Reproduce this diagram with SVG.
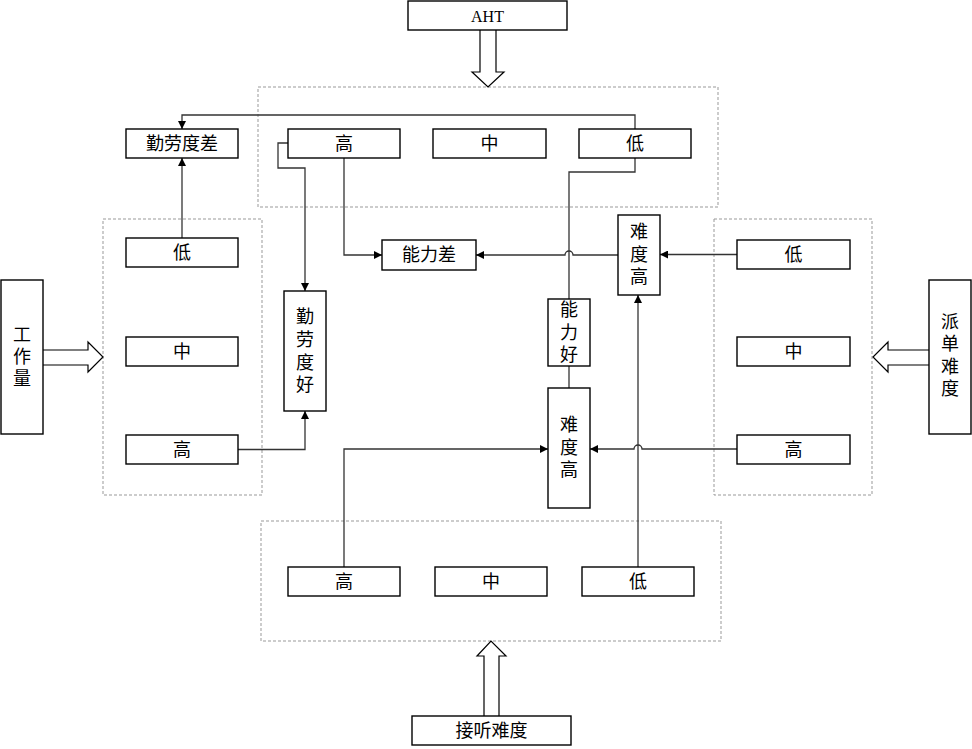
<svg xmlns="http://www.w3.org/2000/svg" width="972" height="749" viewBox="0 0 972 749">
<defs>
<marker id="ah" markerUnits="userSpaceOnUse" markerWidth="8" markerHeight="8" refX="8" refY="4" orient="auto">
<path d="M0,0 L8,4 L0,8 z" fill="#000"/>
</marker>
<style>
.box{fill:#fff;stroke:#000;stroke-width:1.4}
.grp{fill:none;stroke:#999;stroke-width:1;stroke-dasharray:3,2}
.ln{fill:none;stroke:#333;stroke-width:1.3}
.arr{fill:#fff;stroke:#000;stroke-width:1.2}
.t{font-family:"Liberation Serif","Noto Sans CJK SC",serif;font-size:18px;fill:#000;text-anchor:middle;dominant-baseline:central}
.a{font-size:16px}
</style>
</defs>
<rect width="972" height="749" fill="#fff"/>

<!-- containers -->
<g id="containers">
<rect class="grp" x="258" y="87" width="460" height="120"/>
<rect class="grp" x="103" y="219" width="159" height="276"/>
<rect class="grp" x="714" y="219" width="158" height="276"/>
<rect class="grp" x="261" y="521" width="460" height="120"/>
</g>

<!-- hollow arrows -->
<g id="bigarrows">
<path class="arr" d="M480,30 L480,72 L472,72 L488,87 L504,72 L496,72 L496,30"/>
<path class="arr" d="M43,350 L88,350 L88,342 L103,357 L88,372 L88,365 L43,365"/>
<path class="arr" d="M929,350 L888,350 L888,342 L873,357 L888,372 L888,365 L929,365"/>
<path class="arr" d="M484,716 L484,656 L477,656 L491,641 L506,656 L499,656 L499,716"/>
</g>

<!-- connectors -->
<g id="connectors">
<path class="ln" d="M635,129 L635,115 L182,115 L182,129" marker-end="url(#ah)"/>
<path class="ln" d="M182,238 L182,158" marker-end="url(#ah)"/>
<path class="ln" d="M288,143 L278,143 L278,168 L305,168 L305,291" marker-end="url(#ah)"/>
<path class="ln" d="M238,449.5 L305,449.5 L305,411" marker-end="url(#ah)"/>
<path class="ln" d="M344,158 L344,255 L382,255" marker-end="url(#ah)"/>
<path class="ln" d="M618,255 L573,255 A4,4 0 0 0 565,255 L476,255" marker-end="url(#ah)"/>
<path class="ln" d="M635,158 L635,172 L569,172 L569,299"/>
<path class="ln" d="M569,366 L569,388"/>
<path class="ln" d="M737,254.5 L660,254.5" marker-end="url(#ah)"/>
<path class="ln" d="M737,449 L642,449 A4,4 0 0 0 634,449 L590,449" marker-end="url(#ah)"/>
<path class="ln" d="M638,567 L638,295" marker-end="url(#ah)"/>
<path class="ln" d="M344,567 L344,449 L548,449" marker-end="url(#ah)"/>
</g>

<!-- nodes -->
<g id="aht"><rect class="box" x="408" y="1" width="159" height="29"/><text class="t a" x="487.5" y="16">AHT</text></g>
<g id="top-high"><rect class="box" x="288" y="129" width="112" height="29"/><text class="t" x="344" y="143.5">高</text></g>
<g id="top-mid"><rect class="box" x="433" y="129" width="113" height="29"/><text class="t" x="489.5" y="143.5">中</text></g>
<g id="top-low"><rect class="box" x="579" y="129" width="112" height="29"/><text class="t" x="635" y="143.5">低</text></g>
<g id="qinlao-cha"><rect class="box" x="126" y="129" width="112" height="29"/><text class="t" x="182" y="143.5">勤劳度差</text></g>

<g id="left-low"><rect class="box" x="126" y="238" width="112" height="29"/><text class="t" x="182" y="252.5">低</text></g>
<g id="left-mid"><rect class="box" x="126" y="337" width="112" height="29"/><text class="t" x="182" y="351.5">中</text></g>
<g id="left-high"><rect class="box" x="126" y="435" width="112" height="29"/><text class="t" x="182" y="449.5">高</text></g>

<g id="workload"><rect class="box" x="1" y="280" width="42" height="154"/>
<text class="t" x="22" y="335">工</text><text class="t" x="22" y="357">作</text><text class="t" x="22" y="379">量</text></g>

<g id="qinlao-hao"><rect class="box" x="284" y="291" width="42" height="120"/>
<text class="t" x="305" y="317">勤</text><text class="t" x="305" y="340">劳</text><text class="t" x="305" y="363">度</text><text class="t" x="305" y="385">好</text></g>

<g id="nengli-cha"><rect class="box" x="382" y="240" width="94" height="30"/><text class="t" x="429" y="255">能力差</text></g>

<g id="nandu-gao-1"><rect class="box" x="618" y="215" width="42" height="80"/>
<text class="t" x="639" y="232">难</text><text class="t" x="639" y="255">度</text><text class="t" x="639" y="277">高</text></g>

<g id="nengli-hao"><rect class="box" x="548" y="299" width="42" height="67"/>
<text class="t" x="569" y="310">能</text><text class="t" x="569" y="333">力</text><text class="t" x="569" y="355">好</text></g>

<g id="nandu-gao-2"><rect class="box" x="548" y="388" width="42" height="120"/>
<text class="t" x="569" y="425">难</text><text class="t" x="569" y="448">度</text><text class="t" x="569" y="470">高</text></g>

<g id="right-low"><rect class="box" x="737" y="240" width="113" height="29"/><text class="t" x="793.5" y="254.5">低</text></g>
<g id="right-mid"><rect class="box" x="737" y="337" width="113" height="29"/><text class="t" x="793.5" y="351.5">中</text></g>
<g id="right-high"><rect class="box" x="737" y="435" width="113" height="29"/><text class="t" x="793.5" y="449.5">高</text></g>

<g id="paidan"><rect class="box" x="929" y="280" width="42" height="154"/>
<text class="t" x="950" y="322">派</text><text class="t" x="950" y="344">单</text><text class="t" x="950" y="367">难</text><text class="t" x="950" y="389">度</text></g>

<g id="bottom-high"><rect class="box" x="288" y="567" width="112" height="29"/><text class="t" x="344" y="581.5">高</text></g>
<g id="bottom-mid"><rect class="box" x="435" y="567" width="112" height="29"/><text class="t" x="491" y="581.5">中</text></g>
<g id="bottom-low"><rect class="box" x="582" y="567" width="112" height="29"/><text class="t" x="638" y="581.5">低</text></g>

<g id="jieting"><rect class="box" x="412" y="716" width="159" height="29"/><text class="t" x="491.5" y="730.5">接听难度</text></g>
</svg>
